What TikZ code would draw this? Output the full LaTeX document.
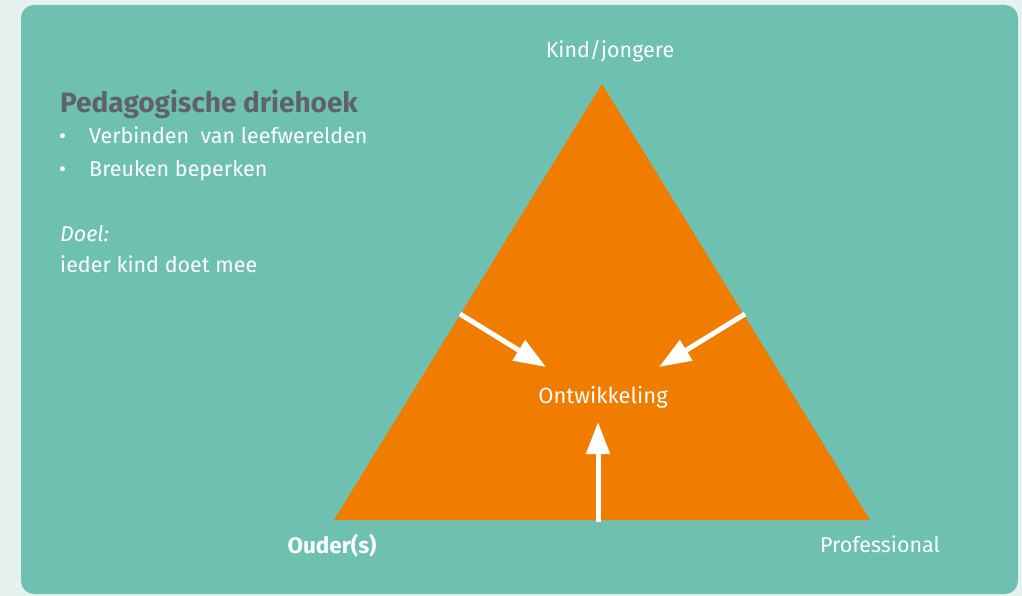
\documentclass[tikz,border=0pt]{standalone}
\usepackage{fontspec}
\setmainfont{Fira Sans}
\usetikzlibrary{arrows.meta}
\definecolor{bgmint}{HTML}{E6F2EF}
\definecolor{teal}{HTML}{6EC1B1}
\definecolor{oranje}{HTML}{F07C00}
\definecolor{titlegray}{HTML}{5F6369}
\tikzset{
	lbl/.style={text=white,font=\fontsize{21.5}{25}\selectfont,inner sep=0pt,anchor=base},
	txt/.style={lbl,anchor=base west},
	pijl/.style={white,line width=5pt,-{Triangle[length=32pt,width=23pt]}}
}
\begin{document}
\begin{tikzpicture}[x=1pt,y=-1pt]
		\useasboundingbox (0,0) rectangle (1022,596);
		\fill[bgmint] (0,0) rectangle (1022,596);
		\fill[teal,rounded corners=13pt] (21,5) rectangle (1018,594); % the panel
		% triangle
		\coordinate (top) at (602,84);
		\coordinate (left) at (334,520);
		\coordinate (right) at (870,520);
		\fill[oranje] (top) -- (left) -- (right) -- cycle;
		% corner labels
		\node[lbl] (kind) at (610,58) {Kind/jongere};
		\node[lbl,font=\bfseries\fontsize{22.5}{26}\selectfont] (ouder) at (332,553) {Ouder(s)};
		\node[lbl] (prof) at (880,552) {Professional};
		\node[lbl,font=\fontsize{22}{26}\selectfont] (ontw) at (603,403) {Ontwikkeling};
		% arrows
		\coordinate (a1) at (460,314);
		\coordinate (b1) at (546,367);
		\coordinate (a2) at (745,314);
		\coordinate (b2) at (659,367);
		\coordinate (a3) at (598,522);
		\coordinate (b3) at (598,422);
		\draw[pijl] (a1) -- (b1);
		\draw[pijl] (a2) -- (b2);
		\draw[pijl] (a3) -- (b3);
		% text block on the left
		\node[txt,text=titlegray,font=\bfseries\fontsize{28}{32}\selectfont] (titel) at (60,113) {Pedagogische driehoek};
		\foreach \y/\t [count=\i] in {144/{Verbinden\ \ van leefwerelden},177/{Breuken beperken}} {
			\node[txt] (dot\i) at (59,\y) {\textbullet};
			\node[txt] (item\i) at (89,\y) {\t};
		}
		\node[txt] (doel) at (60,241) {\itshape Doel:};
		\node[txt] (mee) at (60,272) {ieder kind doet mee};
	\end{tikzpicture}
\end{document}
